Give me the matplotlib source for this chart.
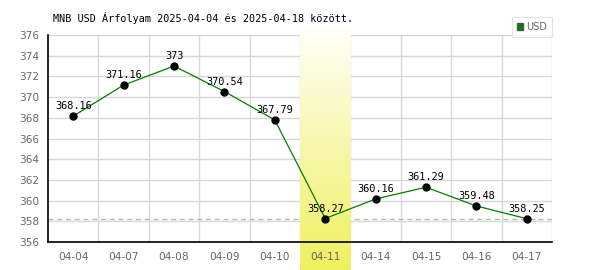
import numpy as np
import matplotlib
matplotlib.use("Agg")
import matplotlib.pyplot as plt
from matplotlib.patches import Patch

dates = ["04-04", "04-07", "04-08", "04-09", "04-10", "04-11", "04-14", "04-15", "04-16", "04-17"]
values = [368.16, 371.16, 373.0, 370.54, 367.79, 358.27, 360.16, 361.29, 359.48, 358.25]
labels = ["368.16", "371.16", "373", "370.54", "367.79", "358.27", "360.16", "361.29", "359.48", "358.25"]
highlight_idx = 5
yticks = list(range(356, 377, 2))
title = "MNB USD Árfolyam 2025-04-04 és 2025-04-18 között."
series_name = "USD"

W, H = 600, 270
fig = plt.figure(figsize=(W / 100, H / 100), dpi=100)
L, R, T, B = 48, 552, 35, 242
ax = fig.add_axes([L / W, 1 - B / H, (R - L) / W, (B - T) / H])
ax.set_facecolor("none")

x = np.arange(len(dates))
ymin, ymax = 356, 376

# highlight gradient band (extends beyond axes)
ppu = (B - T) / (ymax - ymin)
band_top = ymax + (T - 30) / ppu
band_bot = ymin - (H - B) / ppu
grad = np.linspace(0, 1, 256).reshape(-1, 1, 1)
c_top = np.array([1.0, 1.0, 0.97]).reshape(1, 1, 3)
c_bot = np.array([0.94, 0.94, 0.38]).reshape(1, 1, 3)
img = c_top + (c_bot - c_top) * grad
img = np.repeat(img, 2, axis=1)
ax.imshow(img, extent=(highlight_idx - 0.5, highlight_idx + 0.5, band_bot, band_top),
          origin="upper", aspect="auto", clip_on=False, zorder=2.5, interpolation="bilinear")
ax.set_xlim(-0.5, len(dates) - 0.5)
ax.set_ylim(ymin, ymax)

# grid
for yv in yticks:
    ax.axhline(yv, color="#d8d8d8", lw=1, zorder=1)
for xv in np.arange(0.5, len(dates), 1.0):
    ax.axvline(xv, color="#d8d8d8", lw=1, zorder=1)

# reference line at last value
ax.axhline(values[-1], color="#9cc49c", lw=0.9, ls=(0, (4, 3)), zorder=2)

ax.plot(x, values, color="#008000", lw=0.9, zorder=3)
ax.plot(x, values, "o", color="black", ms=5.0, zorder=4)

for xi, v, lab in zip(x, values, labels):
    ax.annotate(lab, (xi, v), xytext=(0, 3.5), textcoords="offset points",
                ha="center", va="bottom", fontsize=7.4, family="DejaVu Sans Mono",
                color="black", zorder=5)

ax.set_xticks(x)
ax.set_xticklabels(dates)
ax.set_yticks(yticks)
ax.tick_params(axis="both", length=0, labelsize=7.6, labelcolor="#666666", pad=6)
ax.tick_params(axis="x", pad=7)
ax.xaxis.set_zorder(7)
ax.yaxis.set_zorder(7)
for s in ["top", "right"]:
    ax.spines[s].set_visible(False)
for s in ["left", "bottom"]:
    ax.spines[s].set_color("black")
    ax.spines[s].set_linewidth(1.2)
    ax.spines[s].set_zorder(6)

fig.text(53 / W, 1 - 18 / H, title, family="DejaVu Sans Mono", fontsize=7.3,
         ha="left", va="center", color="black")

leg = fig.legend(handles=[Patch(facecolor="#008000", edgecolor="#555555", label=series_name)],
                 loc="upper right", bbox_to_anchor=(R / W, 1 - 17 / H), borderaxespad=0,
                 fontsize=7, frameon=True, fancybox=False, handlelength=0.7,
                 handleheight=0.7, handletextpad=0.3, borderpad=0.5, labelcolor="#666666")
leg.get_frame().set_edgecolor("#dddddd")
leg.get_frame().set_linewidth(0.8)

fig.savefig("out.png", dpi=100)
